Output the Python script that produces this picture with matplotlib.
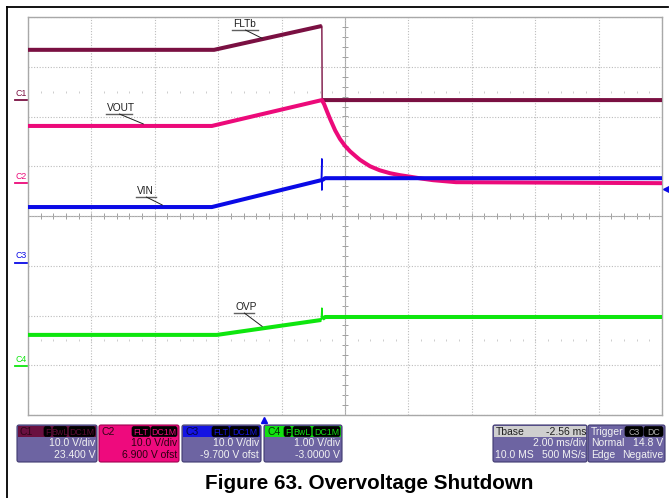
import matplotlib
matplotlib.use("Agg")
import matplotlib.pyplot as plt
from matplotlib.patches import FancyBboxPatch, Rectangle
from matplotlib.transforms import blended_transform_factory
import numpy as np

plt.rcParams['font.family'] = ['Liberation Sans', 'DejaVu Sans']

# time relative to trigger, ms (Tbase -2.56 ms, 2 ms/div)
t_left = -7.44
ms_div = 2.0

# channel settings: volts per div, ground marker position in divisions from centre
ch_scale = {"C1": 10.0, "C2": 10.0, "C3": 10.0, "C4": 1.0}
ch_ground = {"C1": 2.33, "C2": 0.66, "C3": -0.94, "C4": -3.02}
ch_color = {"C1": "#7a1042", "C2": "#ec0a7a", "C3": "#0a0ae6", "C4": "#0ee60e"}

# C1 - FLTb
fltb_t = [-7.44, -1.57, 1.83, 1.84, 12.56]
fltb_v = [10.1, 10.1, 14.9, 0.0, 0.0]

# C2 - VOUT
vout_t = [-7.44, -1.64, 1.83, 1.90, 2.00, 2.09, 2.25, 2.40, 2.56, 2.72, 2.90, 3.03,
          3.20, 3.35, 3.65, 3.98, 4.30, 4.61, 5.00, 5.34, 6.06, 12.56]
vout_v = [11.5, 11.5, 16.7, 15.9, 14.3, 12.9, 10.6, 8.9, 7.5, 6.4, 5.4, 4.7,
          4.0, 3.4, 2.6, 2.0, 1.6, 1.3, 0.9, 0.6, 0.2, 0.0]

# C3 - VIN
vin_t = [-7.44, -1.64, 1.81, 1.83, 1.83, 1.84, 1.93, 12.56]
vin_v = [11.2, 11.2, 16.6, 20.9, 14.6, 16.6, 17.0, 17.0]

# C4 - OVP
ovp_t = [-7.44, -1.48, 1.81, 1.83, 1.85, 1.93, 12.56]
ovp_v = [0.63, 0.63, 0.93, 1.17, 0.95, 0.99, 0.99]

trig_level = 14.8  # V on C3

W, H = 669, 498
fig = plt.figure(figsize=(W / 100, H / 100), dpi=100)

# scope screen
x0, y0, x1, y1 = 28, 17, 662, 415
ax = fig.add_axes([x0 / W, 1 - y1 / H, (x1 - x0) / W, (y1 - y0) / H])
ax.set_xlim(t_left, t_left + 10 * ms_div)
ax.set_ylim(-4, 4)
ax.set_xticks(t_left + ms_div * np.arange(11))
ax.set_yticks(np.arange(-4, 5))
ax.tick_params(length=0, labelbottom=False, labelleft=False)
ax.grid(True, color="#bcbcbc", lw=0.8, ls=(0, (1, 1.5)))
for s in ax.spines.values():
    s.set_color("#a8a8a8")
    s.set_linewidth(1.0)

tc = t_left + 5 * ms_div
ax.axhline(0, color="#a8a8a8", lw=0.8, zorder=1)
ax.axvline(tc, color="#a8a8a8", lw=0.8, zorder=1)
minor_t = t_left + 0.4 * np.arange(1, 50)
ax.plot(minor_t, np.zeros_like(minor_t), ls="none", marker="|", ms=4, mew=0.7, color="#a0a0a0", zorder=1)
for yy in (2.5, -2.5):
    ax.plot(minor_t, np.full_like(minor_t, yy), ls="none", marker="|", ms=2, mew=0.6, color="#c4c4c4", zorder=1)
minor_y = np.arange(-3.8, 4.0, 0.2)
ax.plot(np.full_like(minor_y, tc), minor_y, ls="none", marker="_", ms=4, mew=0.7, color="#a0a0a0", zorder=1)


def to_div(ch, v):
    return np.asarray(v, dtype=float) / ch_scale[ch] + ch_ground[ch]


traces = [("C1", fltb_t, fltb_v), ("C2", vout_t, vout_v), ("C3", vin_t, vin_v), ("C4", ovp_t, ovp_v)]
for ch, tt, vv in traces:
    tt = np.asarray(tt, dtype=float)
    yy = to_div(ch, vv)
    # thin line for fast edges, thick for the slow parts
    ax.plot(tt, yy, color=ch_color[ch], lw=1.0, zorder=3)
    tk, yk = [tt[0]], [yy[0]]
    for i in range(1, len(tt)):
        if tt[i] - tt[i - 1] < 0.03:
            tk.append(np.nan)
            yk.append(np.nan)
        tk.append(tt[i])
        yk.append(yy[i])
    ax.plot(tk, yk, color=ch_color[ch], lw=2.9, solid_capstyle="butt", zorder=3)

# channel ground markers on the left
bt = blended_transform_factory(ax.transAxes, ax.transData)
for ch in ch_scale:
    g = ch_ground[ch]
    ax.text(-0.011, g + 0.05, ch, transform=bt, fontsize=6.3, color=ch_color[ch],
            ha="center", va="bottom", clip_on=False)
    ax.plot([-0.02, -0.002], [g, g], transform=bt, color=ch_color[ch], lw=1.3, clip_on=False)

# trigger markers
ax.plot([1.006], [to_div("C3", trig_level)], transform=bt, marker="<", ms=5, color="#0a0ae6", clip_on=False)
bt2 = blended_transform_factory(ax.transData, ax.transAxes)
ax.plot([0.0], [-0.012], transform=bt2, marker="^", ms=5, color="#0a0ae6", clip_on=False)

# overlay in pixel coordinates
fx = fig.add_axes([0, 0, 1, 1], zorder=5)
fx.set_xlim(0, W)
fx.set_ylim(H, 0)
fx.axis("off")
fx.patch.set_alpha(0)

fx.plot([7, 668], [7, 7], color="black", lw=1.3)
fx.plot([7, 7], [7, 498], color="black", lw=1.3)

# trace labels with underline and leader
labels = [("FLTb", 233, 27, "C1", -0.05, 12.4),
          ("VOUT", 107, 111, "C2", -3.8, 11.9),
          ("VIN", 137, 194, "C3", -3.2, 11.6),
          ("OVP", 235, 310, "C4", -0.05, 0.8)]
for txt, px, py, ch, tx, vx in labels:
    fx.text(px, py, txt, fontsize=7.3, color="#202020", ha="left", va="baseline")
    wpx = 6.2 * len(txt)
    fx.plot([px - 1, px + wpx], [py + 3, py + 3], color="#606060", lw=1.0)
    fx.annotate("", xy=(tx, float(to_div(ch, vx))), xycoords=ax.transData,
                xytext=(px + wpx * 0.5, py + 3), textcoords="data",
                arrowprops=dict(arrowstyle="-", color="#202020", lw=0.7, shrinkA=0, shrinkB=0))

body_col = "#6d64a2"
txt_col = "#f2f2f2"


def box(xa, xb, ya, yb, color, edge="#403a70"):
    fx.add_patch(FancyBboxPatch((xa, ya), xb - xa, yb - ya, boxstyle="round,pad=0,rounding_size=2",
                                fc=color, ec=edge, lw=0.8))


def badge(xa, xb, yc, text, tcol):
    fx.add_patch(FancyBboxPatch((xa, yc - 5), xb - xa, 10, boxstyle="round,pad=0,rounding_size=2",
                                fc="black", ec="black", lw=0.5))
    fx.text((xa + xb) / 2, yc + 0.5, text, fontsize=6.3, color=tcol, ha="center", va="center")


chan_boxes = [
    ("C1", 17, 97, "#6a1040", "#2e0618", [("F", 44, 51), ("BwL", 53, 67), ("DC1M", 69, 95)],
     "10.0 V/div", "23.400 V"),
    ("C2", 99, 179, "#ee0a7d", "#2e0616", [("FLT", 132, 150), ("DC1M", 151, 177)],
     "10.0 V/div", "6.900 V ofst"),
    ("C3", 182, 261, "#1414e2", "#060640", [("FLT", 212, 229), ("DC1M", 230, 259)],
     "10.0 V/div", "-9.700 V ofst"),
    ("C4", 264, 342, "#12e012", "#063006", [("F", 284, 291), ("BwL", 293, 311), ("DC1M", 313, 340)],
     "1.00 V/div", "-3.0000 V"),
]
for ch, xa, xb, hcol, hcol_txt, badges, l1, l2 in chan_boxes:
    if ch == "C2":
        box(xa, xb, 425, 462, hcol, edge="#a00050")
        bcol = "#2a0010"
    else:
        box(xa, xb, 425, 462, body_col)
        fx.add_patch(Rectangle((xa + 1, 426), xb - xa - 2, 11, fc=hcol, ec="none"))
        bcol = txt_col
    fx.text(xa + 3, 432, ch, fontsize=7.5, color=hcol_txt, ha="left", va="center")
    for bt_, ba, bb in badges:
        badge(ba, bb, 431.5, bt_, hcol if ch != "C1" else "#5a0c34")
    fx.text(xb - 2, 443, l1, fontsize=7.5, color=bcol, ha="right", va="center")
    fx.text(xb - 2, 455, l2, fontsize=7.5, color=bcol, ha="right", va="center")

# timebase box
box(493, 587, 425, 462, body_col)
fx.add_patch(Rectangle((494, 426), 92, 11, fc="#cfcfcf", ec="none"))
fx.text(496, 432, "Tbase", fontsize=7.5, color="#202020", ha="left", va="center")
fx.text(586, 432, "-2.56 ms", fontsize=7.5, color="#202020", ha="right", va="center")
fx.text(586, 443, "2.00 ms/div", fontsize=7.5, color=txt_col, ha="right", va="center")
fx.text(495, 455, "10.0 MS", fontsize=7.5, color=txt_col, ha="left", va="center")
fx.text(586, 455, "500 MS/s", fontsize=7.5, color=txt_col, ha="right", va="center")

# trigger box
box(588, 665, 425, 462, body_col)
fx.text(591, 432, "Trigger", fontsize=7.5, color=txt_col, ha="left", va="center")
badge(625, 643, 431.5, "C3", "#b0b0b0")
badge(644, 663, 431.5, "DC", "#b0b0b0")
fx.text(591, 443, "Normal", fontsize=7.5, color=txt_col, ha="left", va="center")
fx.text(663, 443, "14.8 V", fontsize=7.5, color=txt_col, ha="right", va="center")
fx.text(591, 455, "Edge", fontsize=7.5, color=txt_col, ha="left", va="center")
fx.text(663, 455, "Negative", fontsize=7.5, color=txt_col, ha="right", va="center")

fx.text(369, 489, "Figure 63. Overvoltage Shutdown", fontsize=14.9, fontweight="bold",
        color="black", ha="center", va="baseline")

fig.savefig("out.png", dpi=100)
